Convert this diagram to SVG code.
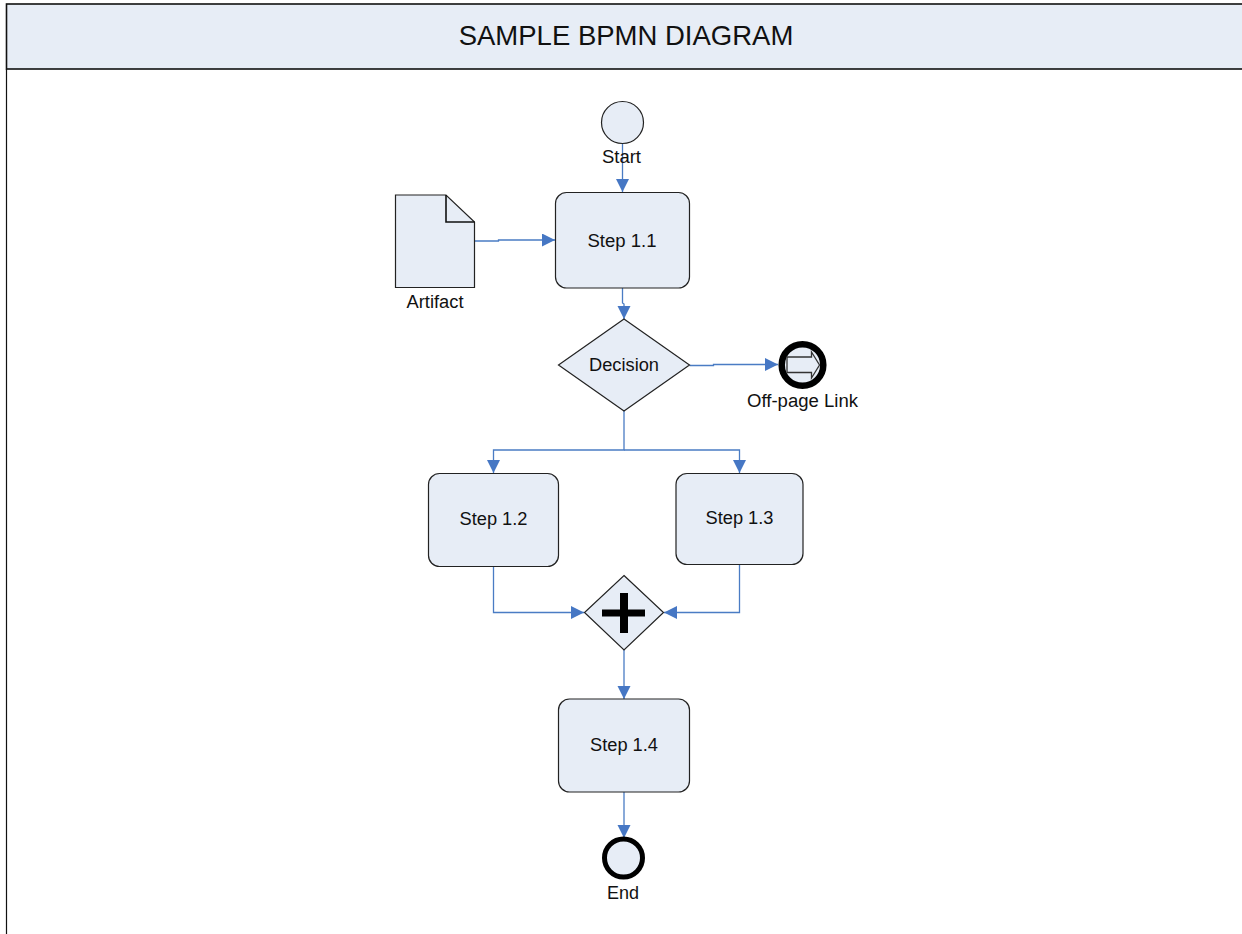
<svg xmlns="http://www.w3.org/2000/svg" width="1242" height="934" viewBox="0 0 1242 934">
<style>
text{font-family:"Liberation Sans",Arial,sans-serif;font-size:18px;fill:#111;text-anchor:middle}
.n{fill:#e7edf6;stroke:#222;stroke-width:1.2}
.c{fill:none;stroke:#4a7cc4;stroke-width:1.3}
.h{fill:#4677c4}
.b{fill:#e7edf6;stroke:#000;stroke-width:5}
</style>
<defs>
<marker id="a" markerUnits="userSpaceOnUse" markerWidth="14" markerHeight="14" refX="13" refY="6.500" orient="auto"><path class="h" d="M0,0L13,6.500L0,13Z"/></marker>
</defs>
<rect width="1242" height="934" fill="#fff"/>
<g id="frame">
<rect x="6.500" y="4" width="1240" height="65" fill="#e7edf6" stroke="#111" stroke-width="1.600"/>
<path d="M6.500 69V934" stroke="#111" stroke-width="1.200" fill="none"/>
<text x="626" y="45" style="font-size:27.500px">SAMPLE BPMN DIAGRAM</text>
</g>
<g id="connectors">
<path class="c" d="M622.500 143.500V192" marker-end="url(#a)"/>
<path class="c" d="M474.500 241H498.500V240H555" marker-end="url(#a)"/>
<path class="c" d="M622.500 288V303L624 304V319" marker-end="url(#a)"/>
<path class="c" d="M689.500 365.500H713.500V364.500H778" marker-end="url(#a)"/>
<path class="c" d="M624 411V450H493.500V473" marker-end="url(#a)"/>
<path class="c" d="M624 450H739.500V473" marker-end="url(#a)"/>
<path class="c" d="M493.500 566.500V612.500H584" marker-end="url(#a)"/>
<path class="c" d="M739.500 564.500V612.500H664" marker-end="url(#a)"/>
<path class="c" d="M624 650V699" marker-end="url(#a)"/>
<path class="c" d="M624 792V838" marker-end="url(#a)"/>
</g>
<g id="start"><circle class="n" cx="622.500" cy="122.500" r="21"/><text x="621.500" y="162.500" textLength="39" lengthAdjust="spacingAndGlyphs">Start</text></g>
<g id="artifact">
<path class="n" d="M395.500 195H446L474.500 222V287.500H395.500Z"/>
<path d="M446 195V222H474.500" fill="none" stroke="#111" stroke-width="1.600"/>
<text x="435" y="307.500" textLength="57" lengthAdjust="spacingAndGlyphs">Artifact</text>
</g>
<g id="step11"><rect class="n" x="555.500" y="192.500" width="134" height="95.500" rx="11"/><text x="622" y="246.500" textLength="69" lengthAdjust="spacingAndGlyphs">Step 1.1</text></g>
<g id="decision"><path class="n" d="M624 319L689.500 365L624 411L558.500 365Z"/><text x="624" y="370.500" textLength="70" lengthAdjust="spacingAndGlyphs">Decision</text></g>
<g id="offpage">
<circle class="b" cx="802.500" cy="365" r="20.800" style="stroke-width:6.500px"/>
<path d="M787 357H811.500V352L819.500 365L811.500 378V372.500H787Z" fill="#e7edf6" stroke="#333" stroke-width="1.300"/>
<text x="802.500" y="406.500" textLength="111" lengthAdjust="spacingAndGlyphs">Off-page Link</text>
</g>
<g id="step12"><rect class="n" x="428.500" y="473.500" width="130" height="93" rx="11"/><text x="493.500" y="524.500" textLength="68" lengthAdjust="spacingAndGlyphs">Step 1.2</text></g>
<g id="step13"><rect class="n" x="676" y="473.500" width="127" height="91" rx="11"/><text x="739.500" y="523.500" textLength="68" lengthAdjust="spacingAndGlyphs">Step 1.3</text></g>
<g id="gateway">
<path class="n" d="M624 575.500L663.500 612.500L624 650L584.500 612.500Z"/>
<path d="M602 609.500H645V616.500H602ZM620 593H628V633H620Z" fill="#000"/>
</g>
<g id="step14"><rect class="n" x="558.500" y="699" width="131" height="93" rx="11"/><text x="624" y="750.500" textLength="68" lengthAdjust="spacingAndGlyphs">Step 1.4</text></g>
<g id="end"><circle class="b" cx="623.500" cy="858" r="19"/><text x="623" y="898.500" textLength="32" lengthAdjust="spacingAndGlyphs">End</text></g>
</svg>
